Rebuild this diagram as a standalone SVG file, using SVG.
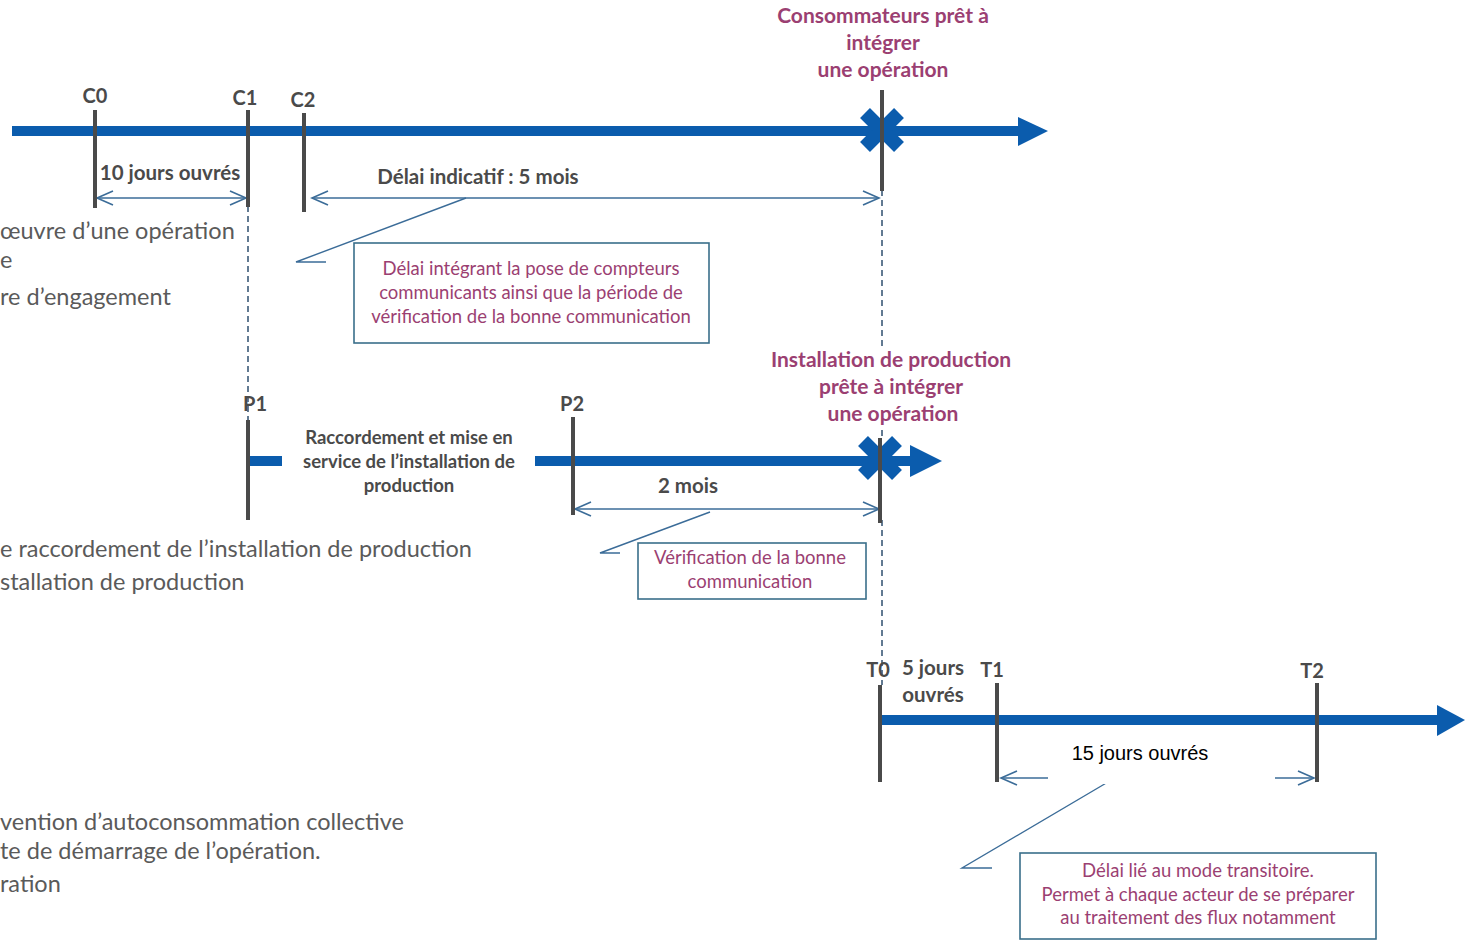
<svg xmlns="http://www.w3.org/2000/svg" width="1465" height="945" viewBox="0 0 1465 945">
<defs>
<style>
.bar{fill:#0b5cad}
.tick{stroke:#4a4a4a;stroke-width:4}
.dash{stroke:#2f4f6f;stroke-width:1.5;stroke-dasharray:6 4;fill:none}
.dim{stroke:#3b6c98;stroke-width:1.6;fill:none}
.callout{stroke:#3b6c98;stroke-width:1.4;fill:none}
.box{fill:#fff;stroke:#3a6f8a;stroke-width:1.6}
.lbl{font-family:"Lato","Liberation Sans",sans-serif;font-weight:bold;fill:#4a4a4a}
.tl{font-size:20px}
.dl{font-size:20.5px}
.pur{font-family:"Lato","Liberation Sans",sans-serif;font-weight:bold;fill:#9b3f72;font-size:21px;text-anchor:middle}
.note{font-family:"Lato","Liberation Sans",sans-serif;fill:#9b3f72;font-size:18.5px;text-anchor:middle}
.side{font-family:"Lato","Liberation Sans",sans-serif;fill:#5a5a5a;font-size:23.5px}
.cross{stroke:#0b5cad;stroke-width:14;fill:none}
</style>
<marker id="ah" markerWidth="20" markerHeight="20" refX="18" refY="8" orient="auto-start-reverse" markerUnits="userSpaceOnUse">
<path d="M2,1 L18,8 L2,15" fill="none" stroke="#3b6c98" stroke-width="1.6"/>
</marker>
</defs>
<rect width="1465" height="945" fill="#fff"/>

<!-- side texts (cut-off) -->
<g id="side-texts">
<text class="side" x="0" y="239">œuvre d’une opération</text>
<text class="side" x="0" y="268">e</text>
<text class="side" x="0" y="305">re d’engagement</text>
<text class="side" x="0" y="557">e raccordement de l’installation de production</text>
<text class="side" x="0" y="590">stallation de production</text>
<text class="side" x="0" y="830">vention d’autoconsommation collective</text>
<text class="side" x="0" y="859">te de démarrage de l’opération.</text>
<text class="side" x="0" y="892">ration</text>
</g>

<!-- connectors -->
<g id="connectors">
<line class="dash" x1="248" y1="206" x2="248" y2="420"/>
<line class="dash" x1="882" y1="190" x2="882" y2="440"/>
<line class="dash" x1="882" y1="520" x2="882" y2="685"/>
<line class="dim" x1="97" y1="198" x2="246" y2="198" marker-start="url(#ah)" marker-end="url(#ah)"/>
<line class="dim" x1="312" y1="198" x2="879" y2="198" marker-start="url(#ah)" marker-end="url(#ah)"/>
<line class="dim" x1="575" y1="509" x2="879" y2="509" marker-start="url(#ah)" marker-end="url(#ah)"/>
<line class="dim" x1="1001" y1="778" x2="1314" y2="778" marker-start="url(#ah)" marker-end="url(#ah)"/>
<polyline class="callout" points="466,198 296,262 326,262"/>
<polyline class="callout" points="710,512 600,553 620,553"/>
<polyline class="callout" points="1108,782 962,868 992,868"/>
</g>

<!-- top timeline -->
<g id="timeline-c">
<rect class="bar" x="12" y="126" width="1010" height="10"/>
<path class="bar" d="M1018,117 L1048,131 L1018,146 Z"/>
<line class="tick" x1="95" y1="110" x2="95" y2="208"/>
<line class="tick" x1="248" y1="110" x2="248" y2="207"/>
<line class="tick" x1="304" y1="113" x2="304" y2="212"/>
<path class="cross" d="M865,113 L899,147 M899,113 L865,147"/>
<line class="tick" x1="882" y1="90" x2="882" y2="191"/>
<text class="lbl tl" x="95" y="103" text-anchor="middle">C0</text>
<text class="lbl tl" x="245" y="105" text-anchor="middle">C1</text>
<text class="lbl tl" x="303" y="107" text-anchor="middle">C2</text>
<text class="lbl dl" x="170" y="180" text-anchor="middle">10 jours ouvrés</text>
<text class="lbl dl" x="478" y="184" text-anchor="middle">Délai indicatif  : 5 mois</text>
</g>
<g id="label-consommateurs">
<text class="pur" x="883" y="23">Consommateurs prêt à</text>
<text class="pur" x="883" y="50">intégrer</text>
<text class="pur" x="883" y="77">une opération</text>
</g>
<g id="note-c">
<rect class="box" x="354" y="243" width="355" height="100"/>
<text class="note" x="531" y="275">Délai intégrant la pose de compteurs</text>
<text class="note" x="531" y="299">communicants ainsi que la période de</text>
<text class="note" x="531" y="323">vérification de la bonne communication</text>
</g>

<!-- middle timeline -->
<g id="timeline-p">
<rect class="bar" x="248" y="456" width="34" height="10"/>
<rect class="bar" x="535" y="456" width="380" height="10"/>
<path class="bar" d="M910,445 L942,461 L910,477 Z"/>
<line class="tick" x1="248" y1="420" x2="248" y2="520"/>
<line class="tick" x1="573" y1="417" x2="573" y2="515"/>
<path class="cross" d="M863,441 L897,475 M897,441 L863,475"/>
<line class="tick" x1="880" y1="438" x2="880" y2="523"/>
<text class="lbl tl" x="255" y="411" text-anchor="middle">P1</text>
<text class="lbl tl" x="572" y="411" text-anchor="middle">P2</text>
<text class="lbl" font-size="18.5" x="409" y="444" text-anchor="middle">Raccordement et mise en</text>
<text class="lbl" font-size="18.5" x="409" y="468" text-anchor="middle">service de l’installation de</text>
<text class="lbl" font-size="18.5" x="409" y="492" text-anchor="middle">production</text>
<text class="lbl dl" x="688" y="493" text-anchor="middle">2 mois</text>
</g>
<g id="label-installation">
<rect x="765" y="346" width="252" height="80" fill="#fff"/>
<text class="pur" x="891" y="367">Installation de production</text>
<text class="pur" x="891" y="394">prête à intégrer</text>
<text class="pur" x="893" y="421">une opération</text>
</g>
<g id="note-p">
<rect class="box" x="638" y="543" width="228" height="56"/>
<text class="note" x="750" y="564">Vérification de la bonne</text>
<text class="note" x="750" y="588">communication</text>
</g>

<!-- bottom timeline -->
<g id="timeline-t">
<rect class="bar" x="880" y="715" width="562" height="10"/>
<path class="bar" d="M1437,705 L1465,720 L1437,736 Z"/>
<line class="tick" x1="880" y1="685" x2="880" y2="782"/>
<line class="tick" x1="997" y1="683" x2="997" y2="782"/>
<line class="tick" x1="1317" y1="683" x2="1317" y2="782"/>
<text class="lbl tl" x="878" y="677" text-anchor="middle">T0</text>
<text class="lbl tl" x="992" y="677" text-anchor="middle">T1</text>
<text class="lbl tl" x="1312" y="678" text-anchor="middle">T2</text>
<text class="lbl dl" x="933" y="675" text-anchor="middle">5 jours</text>
<text class="lbl dl" x="933" y="702" text-anchor="middle">ouvrés</text>
<rect x="1048" y="735" width="227" height="49" fill="#fff"/>
<text x="1140" y="760" font-family="Liberation Sans, Arial, sans-serif" font-size="20" fill="#000" text-anchor="middle">15 jours ouvrés</text>
</g>
<g id="note-t">
<rect class="box" x="1020" y="853" width="356" height="86"/>
<text class="note" x="1198" y="877">Délai lié au mode transitoire.</text>
<text class="note" x="1198" y="901">Permet à chaque acteur de se préparer</text>
<text class="note" x="1198" y="924">au traitement des flux notamment</text>
</g>
</svg>
